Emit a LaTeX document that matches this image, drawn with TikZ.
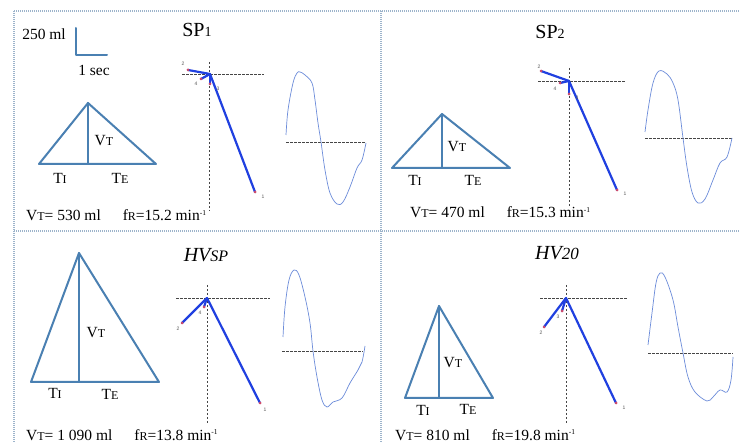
\documentclass[tikz,border=0pt]{standalone}
\usepackage{fontspec}
\setmainfont{Liberation Serif}
\newfontfamily\labfont{Liberation Sans}
\definecolor{cTri}{HTML}{4A80B2}
\definecolor{cVec}{HTML}{2040E0}
\definecolor{cWav}{HTML}{6C8CDA}
\definecolor{cBrd}{HTML}{9DB4CB}
\definecolor{cDot}{HTML}{D04A6A}
\newcommand\smc[1]{{\fontsize{12}{12}\selectfont #1}}
\newcommand\bsmc[1]{{\fontsize{12}{12}\selectfont #1}}
\newcommand\supm{\raisebox{5.5pt}{\fontsize{7.5}{7.5}\selectfont -1}}
\begin{document}
\begin{tikzpicture}[x=1pt,y=-1pt,
  triline/.style={draw=cTri, line width=2pt, line join=round, line cap=round},
  vecl/.style={draw=cVec, line width=2.2pt, line cap=round},
  wave/.style={draw=cWav, line width=0.7pt},
  axisl/.style={draw=gray!55!black, line width=0.7pt, dash pattern=on 2.5pt off 1.5pt},
  brdline/.style={draw=cBrd, line width=2.5pt, dash pattern=on 1.2pt off 0.8pt},
  lab/.style={font=\fontsize{15.5}{15.5}\selectfont, inner sep=0pt},
  tinylab/.style={font=\labfont\fontsize{5}{5}\selectfont, text=gray!70!black, inner sep=0pt},
  ttl/.style={font=\fontsize{20}{20}\selectfont, inner sep=0pt},
  bot/.style={font=\fontsize{15.5}{15.5}\selectfont, anchor=base west, inner sep=0pt}]
\fill[white] (0,0) rectangle (739,443);
\useasboundingbox (0,0) rectangle (739,443);

% borders
\coordinate (b1) at (14,11); \coordinate (b2) at (739,11);
\coordinate (b3) at (14,443); \coordinate (b4) at (381,11);
\coordinate (b5) at (381,443); \coordinate (b6) at (14,231);
\coordinate (b7) at (739,231);
\draw[brdline] (b1) -- (b2);
\draw[brdline] (b1) -- (b3);
\draw[brdline] (b4) -- (b5);
\draw[brdline] (b6) -- (b7);

% scale
\node[lab] (ml) at (44,34) {250 ml};
\node[lab] (sec) at (94,70) {1 sec};
\coordinate (s1) at (76,28); \coordinate (s2) at (76,55); \coordinate (s3) at (107,55);
\draw[triline] (s1) -- (s2) -- (s3);

% titles
\node[ttl] (t1) at (197,30) {SP{\fontsize{14}{14}\selectfont 1}};
\node[ttl] (t2) at (550,32) {SP{\fontsize{14}{14}\selectfont 2}};
\node[ttl] (t3) at (206,255) {\itshape HV{\fontsize{16}{16}\selectfont SP}};
\node[ttl] (t4) at (557,253) {\itshape HV{\fontsize{17}{17}\selectfont 20}};

% ---------- triangles ----------
% panel 1
\coordinate (aA) at (88,103); \coordinate (aL) at (39,164); \coordinate (aR) at (156,164); \coordinate (aB) at (88,164);
\draw[triline] (aL) -- (aA) -- (aR) -- cycle; \draw[triline] (aA) -- (aB);
\node[lab] (aVT) at (104,141) {V\smc{T}};
\node[lab] (aTI) at (60,178) {T\smc{I}};
\node[lab] (aTE) at (120,178) {T\smc{E}};
% panel 2
\coordinate (bA) at (442,114); \coordinate (bL) at (392,168); \coordinate (bR) at (510,168); \coordinate (bB) at (442,168);
\draw[triline] (bL) -- (bA) -- (bR) -- cycle; \draw[triline] (bA) -- (bB);
\node[lab] (bVT) at (457,147) {V\smc{T}};
\node[lab] (bTI) at (415,180) {T\smc{I}};
\node[lab] (bTE) at (473,180) {T\smc{E}};
% panel 3
\coordinate (cA) at (79,253); \coordinate (cL) at (31,382); \coordinate (cR) at (159,382); \coordinate (cB) at (79,382);
\draw[triline] (cL) -- (cA) -- (cR) -- cycle; \draw[triline] (cA) -- (cB);
\node[lab] (cVT) at (96,333) {V\smc{T}};
\node[lab] (cTI) at (55,393) {T\smc{I}};
\node[lab] (cTE) at (110,394) {T\smc{E}};
% panel 4
\coordinate (dA) at (439,306); \coordinate (dL) at (405,398); \coordinate (dR) at (493,398); \coordinate (dB) at (439,398);
\draw[triline] (dL) -- (dA) -- (dR) -- cycle; \draw[triline] (dA) -- (dB);
\node[lab] (dVT) at (453,363) {V\smc{T}};
\node[lab] (dTI) at (423,410) {T\smc{I}};
\node[lab] (dTE) at (468,409) {T\smc{E}};

% ---------- bottom texts ----------
\node[bot] (aTxt) at (26,221) {V\bsmc{T}= 530 ml\quad\, f\bsmc{R}=15.2 min\supm};
\node[bot] (bTxt) at (410,218) {V\bsmc{T}= 470 ml\quad\, f\bsmc{R}=15.3 min\supm};
\node[bot] (cTxt) at (26,440) {V\bsmc{T}= 1 090 ml\quad\, f\bsmc{R}=13.8 min\supm};
\node[bot] (dTxt) at (395,440) {V\bsmc{T}= 810 ml\quad\, f\bsmc{R}=19.8 min\supm};

% ---------- vector diagrams ----------
% panel 1
\coordinate (aVt) at (209,62); \coordinate (aVb) at (209,211);
\coordinate (aHl) at (182,74); \coordinate (aHr) at (264,74);
\draw[axisl] (aVt) -- (aVb); \draw[axisl] (aHl) -- (aHr);
\coordinate (aO) at (210,74);
\coordinate (aP1) at (255,192); \coordinate (aP2) at (188,70);
\coordinate (aP3) at (210,84); \coordinate (aP4) at (201,79);
\draw[vecl] (aO) -- (aP1); \draw[vecl] (aO) -- (aP2);
\draw[vecl] (aO) -- (aP3); \draw[vecl] (aO) -- (aP4);
\foreach \p in {aP1,aP2,aP3,aP4} \fill[cDot] (\p) circle (1.5);
\node[tinylab] (aL1) at (263,197) {1};
\node[tinylab] (aL2) at (183,64) {2};
\node[tinylab] (aL3) at (218,89) {3};
\node[tinylab] (aL4) at (196,84) {4};
% panel 2
\coordinate (bVt) at (569,68); \coordinate (bVb) at (569,207);
\coordinate (bHl) at (538,81); \coordinate (bHr) at (626,81);
\draw[axisl] (bVt) -- (bVb); \draw[axisl] (bHl) -- (bHr);
\coordinate (bO) at (569,81);
\coordinate (bP1) at (617,190); \coordinate (bP2) at (541,71);
\coordinate (bP3) at (569,94); \coordinate (bP4) at (560,83);
\draw[vecl] (bO) -- (bP1); \draw[vecl] (bO) -- (bP2);
\draw[vecl] (bO) -- (bP3); \draw[vecl] (bO) -- (bP4);
\foreach \p in {bP1,bP2,bP3,bP4} \fill[cDot] (\p) circle (1.5);
\node[tinylab] (bL1) at (625,194) {1};
\node[tinylab] (bL2) at (539,67) {2};
\node[tinylab] (bL3) at (577,98) {3};
\node[tinylab] (bL4) at (555,89) {4};
% panel 3
\coordinate (cVt) at (207,285); \coordinate (cVb) at (207,423);
\coordinate (cHl) at (176,298); \coordinate (cHr) at (270,298);
\draw[axisl] (cVt) -- (cVb); \draw[axisl] (cHl) -- (cHr);
\coordinate (cO) at (207,298);
\coordinate (cP1) at (260,403); \coordinate (cP2) at (182,323);
\coordinate (cP4) at (204,307);
\draw[vecl] (cO) -- (cP1); \draw[vecl] (cO) -- (cP2);
\draw[vecl] (cO) -- (cP4);
\foreach \p in {cP1,cP2,cP4} \fill[cDot] (\p) circle (1.5);
\node[tinylab] (cL1) at (265,410) {1};
\node[tinylab] (cL2) at (178,329) {2};
\node[tinylab] (cL4) at (200,313) {4};
% panel 4
\coordinate (dVt) at (566,285); \coordinate (dVb) at (566,423);
\coordinate (dHl) at (540,298); \coordinate (dHr) at (627,298);
\draw[axisl] (dVt) -- (dVb); \draw[axisl] (dHl) -- (dHr);
\coordinate (dO) at (566,298);
\coordinate (dP1) at (616,403); \coordinate (dP2) at (544,327);
\coordinate (dP3) at (562,311);
\draw[vecl] (dO) -- (dP1); \draw[vecl] (dO) -- (dP2);
\draw[vecl] (dO) -- (dP3);
\foreach \p in {dP1,dP2,dP3} \fill[cDot] (\p) circle (1.5);
\node[tinylab] (dL1) at (624,408) {1};
\node[tinylab] (dL2) at (541,333) {2};
\node[tinylab] (dL3) at (558,317) {3};

% ---------- waves ----------
\coordinate (aWl) at (286,142); \coordinate (aWr) at (366,142);
\draw[axisl] (aWl) -- (aWr);
\draw[wave] plot[smooth, tension=0.6] coordinates {(286,135) (288,110) (293,83) (297,73) (300,72) (305,75) (312,83) (315,100) (318,123) (321,142) (325,170) (330,193) (337,204) (343,202) (350,187) (357,168) (362,160) (366,143)};

\coordinate (bWl) at (645,138); \coordinate (bWr) at (732,138);
\draw[axisl] (bWl) -- (bWr);
\draw[wave] plot[smooth, tension=0.6] coordinates {(645,132) (648,110) (653,83) (659,71) (667,74) (673,83) (678,100) (683,138) (687,167) (692,192) (698,203) (705,199) (713,180) (720,163) (727,157) (732,138)};

\coordinate (cWl) at (282,351); \coordinate (cWr) at (363,351);
\draw[axisl] (cWl) -- (cWr);
\draw[wave] plot[smooth, tension=0.6] coordinates {(283,337) (285,307) (289,280) (294,270) (299,275) (305,297) (310,323) (313,351) (317,377) (322,400) (327,407) (333,402) (342,398) (350,383) (358,370) (362,362) (365,346)};

\coordinate (dWl) at (648,353); \coordinate (dWr) at (733,353);
\draw[axisl] (dWl) -- (dWr);
\draw[wave] plot[smooth, tension=0.6] coordinates {(648,345) (652,313) (656,283) (660,273) (665,277) (673,300) (678,327) (683,353) (688,377) (695,392) (707,401) (713,397) (720,390) (727,392) (731,380) (733,357)};
\end{tikzpicture}
\end{document}
